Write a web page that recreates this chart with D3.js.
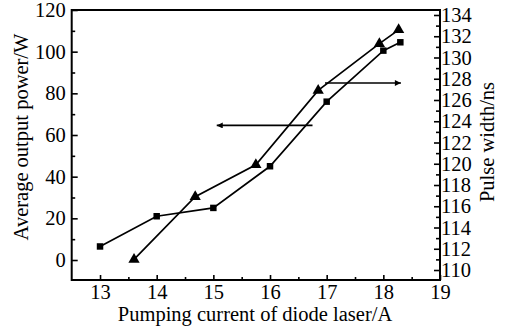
<!DOCTYPE html>
<html>
<head>
<meta charset="utf-8">
<script src="https://cdn.jsdelivr.net/npm/d3@7"></script>
<style>
  body { margin: 0; background: #fff; }
  svg { display: block; }
</style>
</head>
<body>
<svg id="chart"></svg>
<script>
// Average output power (squares, left axis)
var currentPower = [13, 14, 15, 16, 17, 18, 18.3];
var power = [6.5, 21, 25, 45, 76, 100.5, 104.5];

// Pulse width (triangles, right axis)
var currentPulse = [13.6, 14.68, 15.75, 16.85, 17.93, 18.27];
var pulseWidth = [111, 116.9, 119.9, 126.9, 131.3, 132.6];

var xTicks = [13, 14, 15, 16, 17, 18, 19];
var leftTicks = [0, 20, 40, 60, 80, 100, 120];
var rightTicks = d3.range(110, 135, 2);

var width = 510, height = 329;
var font = "'Liberation Serif'";
var fontSize = "20.5px";

var svg = d3.select("#chart")
    .attr("width", width)
    .attr("height", height);

// plot box
var box = { left: 71.7, right: 440, top: 10, bottom: 280 };

var x = d3.scaleLinear().domain([12.5, 19]).range([box.left, box.right]);
var yL = d3.scaleLinear().domain([-9.6, 120]).range([box.bottom, box.top]);
var yR = d3.scaleLinear().domain([109.06, 134.47]).range([box.bottom, box.top]);

var fmt = d3.format("d");

// minor ticks
svg.append("g")
    .attr("transform", `translate(0,${box.bottom})`)
    .call(d3.axisBottom(x).tickValues(d3.range(13.5, 19, 1)).tickSize(-3).tickFormat(""))
    .call(g => g.select(".domain").remove());
svg.append("g")
    .attr("transform", `translate(${box.left},0)`)
    .call(d3.axisLeft(yL).tickValues(d3.range(10, 120, 20)).tickSize(-3.5).tickFormat(""))
    .call(g => g.select(".domain").remove());
svg.append("g")
    .attr("transform", `translate(${box.right},0)`)
    .call(d3.axisRight(yR).tickValues(d3.range(111, 134, 2)).tickSize(-4).tickFormat(""))
    .call(g => g.select(".domain").remove());

// major ticks + labels
svg.append("g")
    .attr("transform", `translate(0,${box.bottom})`)
    .call(d3.axisBottom(x).tickValues(xTicks).tickFormat(fmt).tickSizeInner(-5).tickSizeOuter(0).tickPadding(4))
    .call(g => g.select(".domain").remove());

svg.append("g")
    .attr("transform", `translate(${box.left},0)`)
    .call(d3.axisLeft(yL).tickValues(leftTicks).tickFormat(fmt).tickSizeInner(-6).tickSizeOuter(0).tickPadding(6))
    .call(g => g.select(".domain").remove());

svg.append("g")
    .attr("transform", `translate(${box.right},0)`)
    .call(d3.axisRight(yR).tickValues(rightTicks).tickFormat(fmt).tickSizeInner(-6).tickSizeOuter(0).tickPadding(1))
    .call(g => g.select(".domain").remove());

svg.selectAll(".tick line").attr("stroke", "#000").attr("stroke-width", 1.6);
svg.selectAll(".tick text")
    .style("font-family", font)
    .style("font-size", fontSize)
    .attr("fill", "#000");

// frame
svg.append("rect")
    .attr("x", box.left).attr("y", box.top)
    .attr("width", box.right - box.left).attr("height", box.bottom - box.top)
    .attr("fill", "none").attr("stroke", "#000").attr("stroke-width", 2);

// axis titles
svg.append("text")
    .attr("x", (x(13) + x(19)) / 2 - 15)
    .attr("y", 321)
    .attr("text-anchor", "middle")
    .style("font-family", font).style("font-size", fontSize)
    .text("Pumping current of diode laser/A");

svg.append("text")
    .attr("transform", "translate(28,137) rotate(-90)")
    .attr("text-anchor", "middle")
    .style("font-family", font).style("font-size", fontSize)
    .text("Average output power/W");

svg.append("text")
    .attr("transform", "translate(494,142) rotate(-90)")
    .attr("text-anchor", "middle")
    .style("font-family", font).style("font-size", fontSize)
    .text("Pulse width/ns");

// power line
var powerData = currentPower.map((c, i) => [c, power[i]]);
svg.append("path")
    .datum(powerData)
    .attr("fill", "none").attr("stroke", "#000").attr("stroke-width", 1.7)
    .attr("d", d3.line().x(d => x(d[0])).y(d => yL(d[1])));
svg.selectAll(".sq")
    .data(powerData)
    .enter().append("path")
    .attr("class", "sq")
    .attr("transform", d => `translate(${x(d[0])},${yL(d[1])})`)
    .attr("d", d3.symbol().type(d3.symbolSquare).size(42));

// pulse line
var pulseData = currentPulse.map((c, i) => [c, pulseWidth[i]]);
svg.append("path")
    .datum(pulseData)
    .attr("fill", "none").attr("stroke", "#000").attr("stroke-width", 1.7)
    .attr("d", d3.line().x(d => x(d[0])).y(d => yR(d[1])));
svg.selectAll(".tri")
    .data(pulseData)
    .enter().append("path")
    .attr("class", "tri")
    .attr("transform", d => `translate(${x(d[0])},${yR(d[1])})`)
    .attr("d", d3.symbol().type(d3.symbolTriangle).size(55));

// arrows
svg.append("defs").append("marker")
    .attr("id", "head")
    .attr("viewBox", "0 0 10 10")
    .attr("refX", 10).attr("refY", 5)
    .attr("markerUnits", "userSpaceOnUse")
    .attr("markerWidth", 10).attr("markerHeight", 6)
    .attr("orient", "auto")
    .append("path").attr("d", "M0,0L10,5L0,10Z").attr("fill", "#000");

// points to power axis (left)
svg.append("line")
    .attr("x1", x(16.75)).attr("y1", yL(64.6))
    .attr("x2", x(15.06)).attr("y2", yL(64.6))
    .attr("stroke", "#000").attr("stroke-width", 1.7)
    .attr("marker-end", "url(#head)");

// points to pulse width axis (right)
svg.append("line")
    .attr("x1", x(16.97)).attr("y1", yR(127.6))
    .attr("x2", x(18.31)).attr("y2", yR(127.6))
    .attr("stroke", "#000").attr("stroke-width", 1.7)
    .attr("marker-end", "url(#head)");
</script>
</body>
</html>
